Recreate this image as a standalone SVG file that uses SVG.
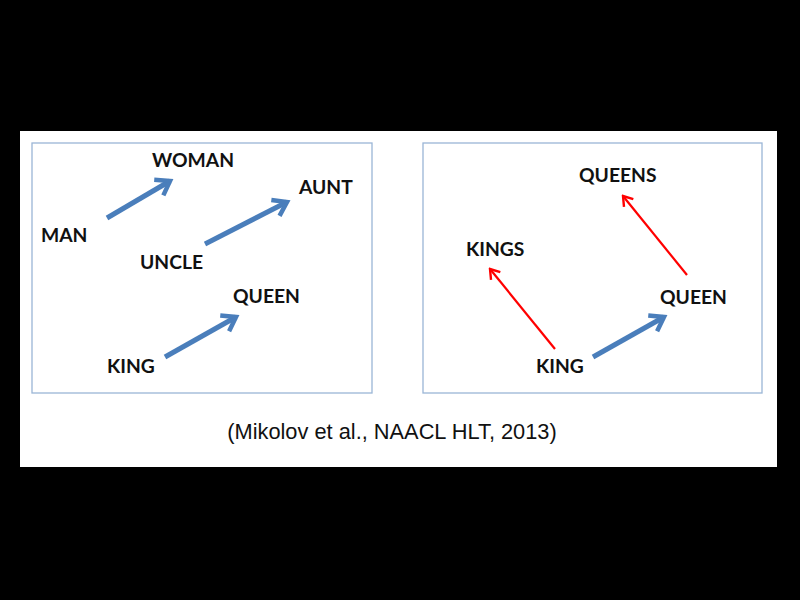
<svg xmlns="http://www.w3.org/2000/svg" width="800" height="600" viewBox="0 0 800 600">
<defs>
<style>
.lbl{font-family:Lato,"Open Sans",sans-serif;font-weight:bold;font-size:19.3px;fill:#111}
.box{fill:none;stroke:#9ab5d6;stroke-width:1.3}
.blue{stroke:#4a7ebb;stroke-width:5;fill:none}
.red{stroke:#ff0000;stroke-width:2.2;fill:none}
</style>
<marker id="ab" markerUnits="userSpaceOnUse" viewBox="-20 -12 24 24" refX="0" refY="0" markerWidth="24" markerHeight="24" orient="auto">
<path d="M-13,-9 L0,0 L-13,9" fill="none" stroke="#4a7ebb" stroke-width="4.5" stroke-linejoin="miter"/>
</marker>
<marker id="ar" markerUnits="userSpaceOnUse" viewBox="-14 -8 16 16" refX="0" refY="0" markerWidth="16" markerHeight="16" orient="auto">
<path d="M-9,-6 L0,0 L-9,6" fill="none" stroke="#ff0000" stroke-width="2.4"/>
</marker>
</defs>
<rect width="800" height="600" fill="#000"/>
<rect x="20" y="131" width="757" height="336" fill="#fff"/>
<rect class="box" x="32" y="143" width="340" height="250"/>
<rect class="box" x="423" y="143" width="339" height="250"/>
<g id="connectors">
<line class="blue" x1="107" y1="218" x2="170" y2="181" marker-end="url(#ab)"/>
<line class="blue" x1="205" y1="244" x2="287" y2="202" marker-end="url(#ab)"/>
<line class="blue" x1="165" y1="357" x2="236" y2="317" marker-end="url(#ab)"/>
<line class="blue" x1="593" y1="357" x2="664" y2="317" marker-end="url(#ab)"/>
<line class="red" x1="555" y1="349" x2="490" y2="269" marker-end="url(#ar)"/>
<line class="red" x1="687" y1="275" x2="623" y2="196" marker-end="url(#ar)"/>
</g>
<g id="woman"><text class="lbl" x="152" y="167">WOMAN</text></g>
<g id="man"><text class="lbl" x="41" y="242">MAN</text></g>
<g id="aunt"><text class="lbl" x="299" y="194">AUNT</text></g>
<g id="uncle"><text class="lbl" x="140" y="269">UNCLE</text></g>
<g id="queen1"><text class="lbl" x="233" y="303">QUEEN</text></g>
<g id="king1"><text class="lbl" x="107" y="373">KING</text></g>
<g id="queens"><text class="lbl" x="579" y="182">QUEENS</text></g>
<g id="kings"><text class="lbl" x="466" y="256">KINGS</text></g>
<g id="queen2"><text class="lbl" x="660" y="304">QUEEN</text></g>
<g id="king2"><text class="lbl" x="536" y="373">KING</text></g>
<text x="392" y="439" text-anchor="middle" font-family="'Liberation Sans',Arial,sans-serif" font-size="21.8" fill="#111">(Mikolov et al., NAACL HLT, 2013)</text>
</svg>
